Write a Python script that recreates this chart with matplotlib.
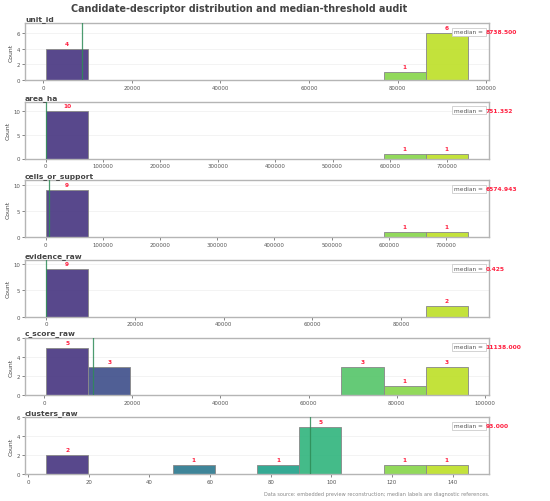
import numpy as np
import matplotlib
matplotlib.use("Agg")
import matplotlib.pyplot as plt
from matplotlib import cm
from matplotlib.ticker import MaxNLocator

# ---- data ----
panel_names = ["unit_id", "area_ha", "cells_or_support", "evidence_raw", "c_score_raw", "clusters_raw"]
bin_counts = [
    [4, 0, 0, 0, 0, 0, 0, 0, 1, 6],
    [10, 0, 0, 0, 0, 0, 0, 0, 1, 1],
    [9, 0, 0, 0, 0, 0, 0, 0, 1, 1],
    [9, 0, 0, 0, 0, 0, 0, 0, 0, 2],
    [5, 3, 0, 0, 0, 0, 0, 3, 1, 3],
    [2, 0, 0, 1, 0, 1, 5, 0, 1, 1],
]
range_min = [600, 600, 1000, 0.0, 400, 6]
range_max = [95900, 736000, 738000, 95100, 96200, 145]
medians = [8738.5, 751.352, 6574.943, 0.425, 11138.0, 93.0]

title = "Candidate-descriptor distribution and median-threshold audit"
footer = "Data source: embedded preview reconstruction; median labels are diagnostic references."

# ---- figure ----
plt.rcParams['font.family'] = ['DejaVu Sans']
fig = plt.figure(figsize=(5.5, 5.02), dpi=100)
W, H = 550.0, 502.0
left_px, right_px = 25.0, 489.0
tops = [24.3, 102.7, 181.3, 260.7, 339.3, 418.3]
ax_h = 56.8

colors = cm.viridis(np.linspace(0.15, 0.9, 10))

for i, name in enumerate(panel_names):
    ax = fig.add_axes([left_px / W, 1 - (tops[i] + ax_h) / H, (right_px - left_px) / W, ax_h / H])
    edges = np.linspace(range_min[i], range_max[i], 11)
    counts = np.array(bin_counts[i])
    widths = np.diff(edges)
    for b in range(10):
        if counts[b] > 0:
            ax.bar(edges[b], counts[b], width=widths[b], align='edge', color=colors[b],
                   edgecolor='#8a8a8a', linewidth=0.7, alpha=0.9, zorder=2)
            ax.annotate(str(counts[b]), xy=(edges[b] + widths[b] / 2, counts[b]),
                        xytext=(0, 2.0), textcoords='offset points', ha='center', va='bottom',
                        fontsize=4.2, fontweight='bold', color='#ff2040', zorder=5)
    ax.set_xlim(edges[0] - 0.05 * (edges[-1] - edges[0]), edges[-1] + 0.05 * (edges[-1] - edges[0]))
    ax.set_ylim(0, counts.max() * 1.2)
    ax.yaxis.set_major_locator(MaxNLocator(nbins=4, integer=True, steps=[1, 2, 5, 10]))
    ax.axvline(medians[i], color='#2e8b57', lw=0.9, alpha=0.85, zorder=4)

    ax.set_title(name, loc='left', fontsize=5.4, fontweight='bold', color='#444444', pad=2)
    ax.set_ylabel("Count", fontsize=4.4, color='#444444', labelpad=2)
    ax.tick_params(axis='both', labelsize=3.9, colors='#555555', length=2, width=0.5, pad=1.5)
    ax.yaxis.grid(True, color='#eeeeee', lw=0.5, zorder=0)
    ax.xaxis.grid(False)
    ax.set_axisbelow(True)
    for sp in ax.spines.values():
        sp.set_color('#b5b5b5')
        sp.set_linewidth(1.0)

    t1 = ax.text(0.99, 0.85, "median = ", transform=ax.transAxes, ha='right', va='center',
                 fontsize=4.2, color='#555555', zorder=6,
                 bbox=dict(boxstyle='square,pad=0.25', fc='white', ec='#cccccc', lw=0.6))
    ax.annotate(f"{medians[i]:.3f}", xy=(1, 0.5), xycoords=t1, xytext=(1, 0),
                textcoords='offset points', ha='left', va='center', fontsize=4.3,
                fontweight='bold', color='#ff2040', annotation_clip=False, zorder=6)

fig.suptitle(title, x=0.434, y=0.993, fontsize=6.9, fontweight='bold', color='#444444')
fig.text(right_px / W, 1 - 495 / H, footer, ha='right', va='center', fontsize=3.6, color='#888888')

fig.savefig("out.png", dpi=100)
